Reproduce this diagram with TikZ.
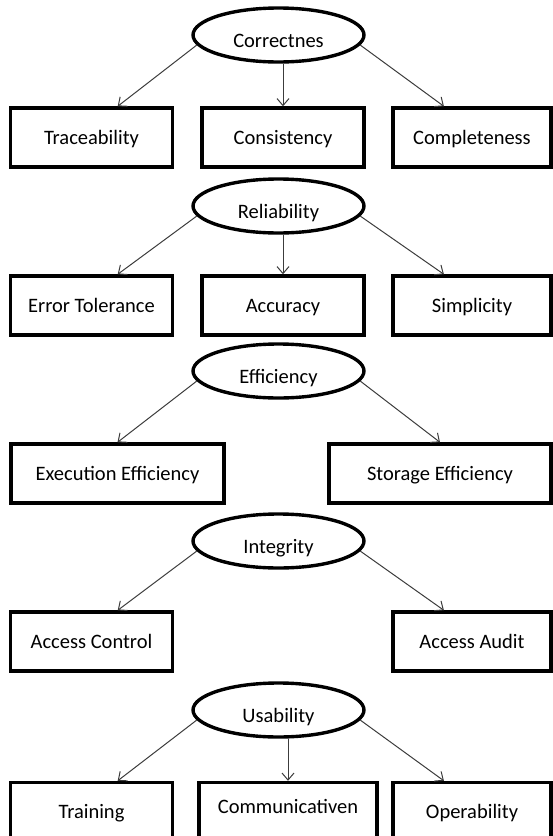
\documentclass[tikz,border=0pt]{standalone}
\usepackage{fontspec}
\setmainfont{Carlito}
\usepackage{xcolor}
\usepackage{tikz}
\usetikzlibrary{shapes.geometric, arrows.meta, positioning}
\definecolor{linkgray}{RGB}{60,60,60}

\begin{document}
\begin{tikzpicture}[x=1pt, y=-1pt,
    every node/.style={font=\fontsize{20.5}{24}\selectfont},
    quality/.style={draw, ellipse, line width=3.4pt, minimum width=171pt, minimum height=54pt,
        inner sep=0pt, text height=27pt, text depth=2pt},
    factor/.style={draw, rectangle, line width=3.4pt, minimum width=162pt, minimum height=59pt,
        inner sep=0pt, text height=16.6pt, text depth=3.4pt},
    link/.style={draw=linkgray, line width=1pt, -{Straight Barb[length=7pt, width=12pt]}}]
    \useasboundingbox (0,0) rectangle (552,836);

    \node[quality] (corr) at (278.5,35) {Correctnes};
    \node[factor] (trace) at (91.5,137.5) {Traceability};
    \node[factor] (cons) at (283,137.5) {Consistency};
    \node[factor, minimum width=158pt] (compl) at (472,137.5) {Completeness};
    \draw[link] (corr.187) -- (trace.50);
    \draw[link] (cons.north |- corr.south) -- (cons.north);
    \draw[link] (corr.353) -- (compl.132);

    \node[quality] (rel) at (278.5,206) {Reliability};
    \node[factor] (errtol) at (91.5,305.5) {Error Tolerance};
    \node[factor] (acc) at (283,305.5) {Accuracy};
    \node[factor, minimum width=158pt] (simp) at (472,305.5) {Simplicity};
    \draw[link] (rel.187) -- (errtol.50);
    \draw[link] (acc.north |- rel.south) -- (acc.north);
    \draw[link] (rel.353) -- (simp.132);

    \node[quality] (eff) at (278.5,371) {Efficiency};
    \node[factor, minimum width=213pt] (exec) at (117.5,473.5) {Execution Efficiency};
    \node[factor, minimum width=222pt] (stor) at (440,473.5) {Storage Efficiency};
    \draw[link] (eff.187) -- (exec.north);
    \draw[link] (eff.353) -- (stor.north);

    \node[quality] (integ) at (278.5,541) {Integrity};
    \node[factor] (acctrl) at (91.5,641.5) {Access Control};
    \node[factor, minimum width=158pt] (audit) at (472,641.5) {Access Audit};
    \draw[link] (integ.187) -- (acctrl.50);
    \draw[link] (integ.353) -- (audit.132);

    \node[quality] (usab) at (278.5,710) {Usability};
    \node[factor] (train) at (91.5,812) {Training};
    \node[factor, minimum width=178pt, text height=11.6pt, text depth=8.4pt] (comm) at (288,812) {Communicativen};
    \node[factor, minimum width=158pt] (oper) at (472,812) {Operability};
    \draw[link] (usab.187) -- (train.50);
    \draw[link] (comm.north |- usab.south) -- (comm.north);
    \draw[link] (usab.353) -- (oper.132);
\end{tikzpicture}
\end{document}
